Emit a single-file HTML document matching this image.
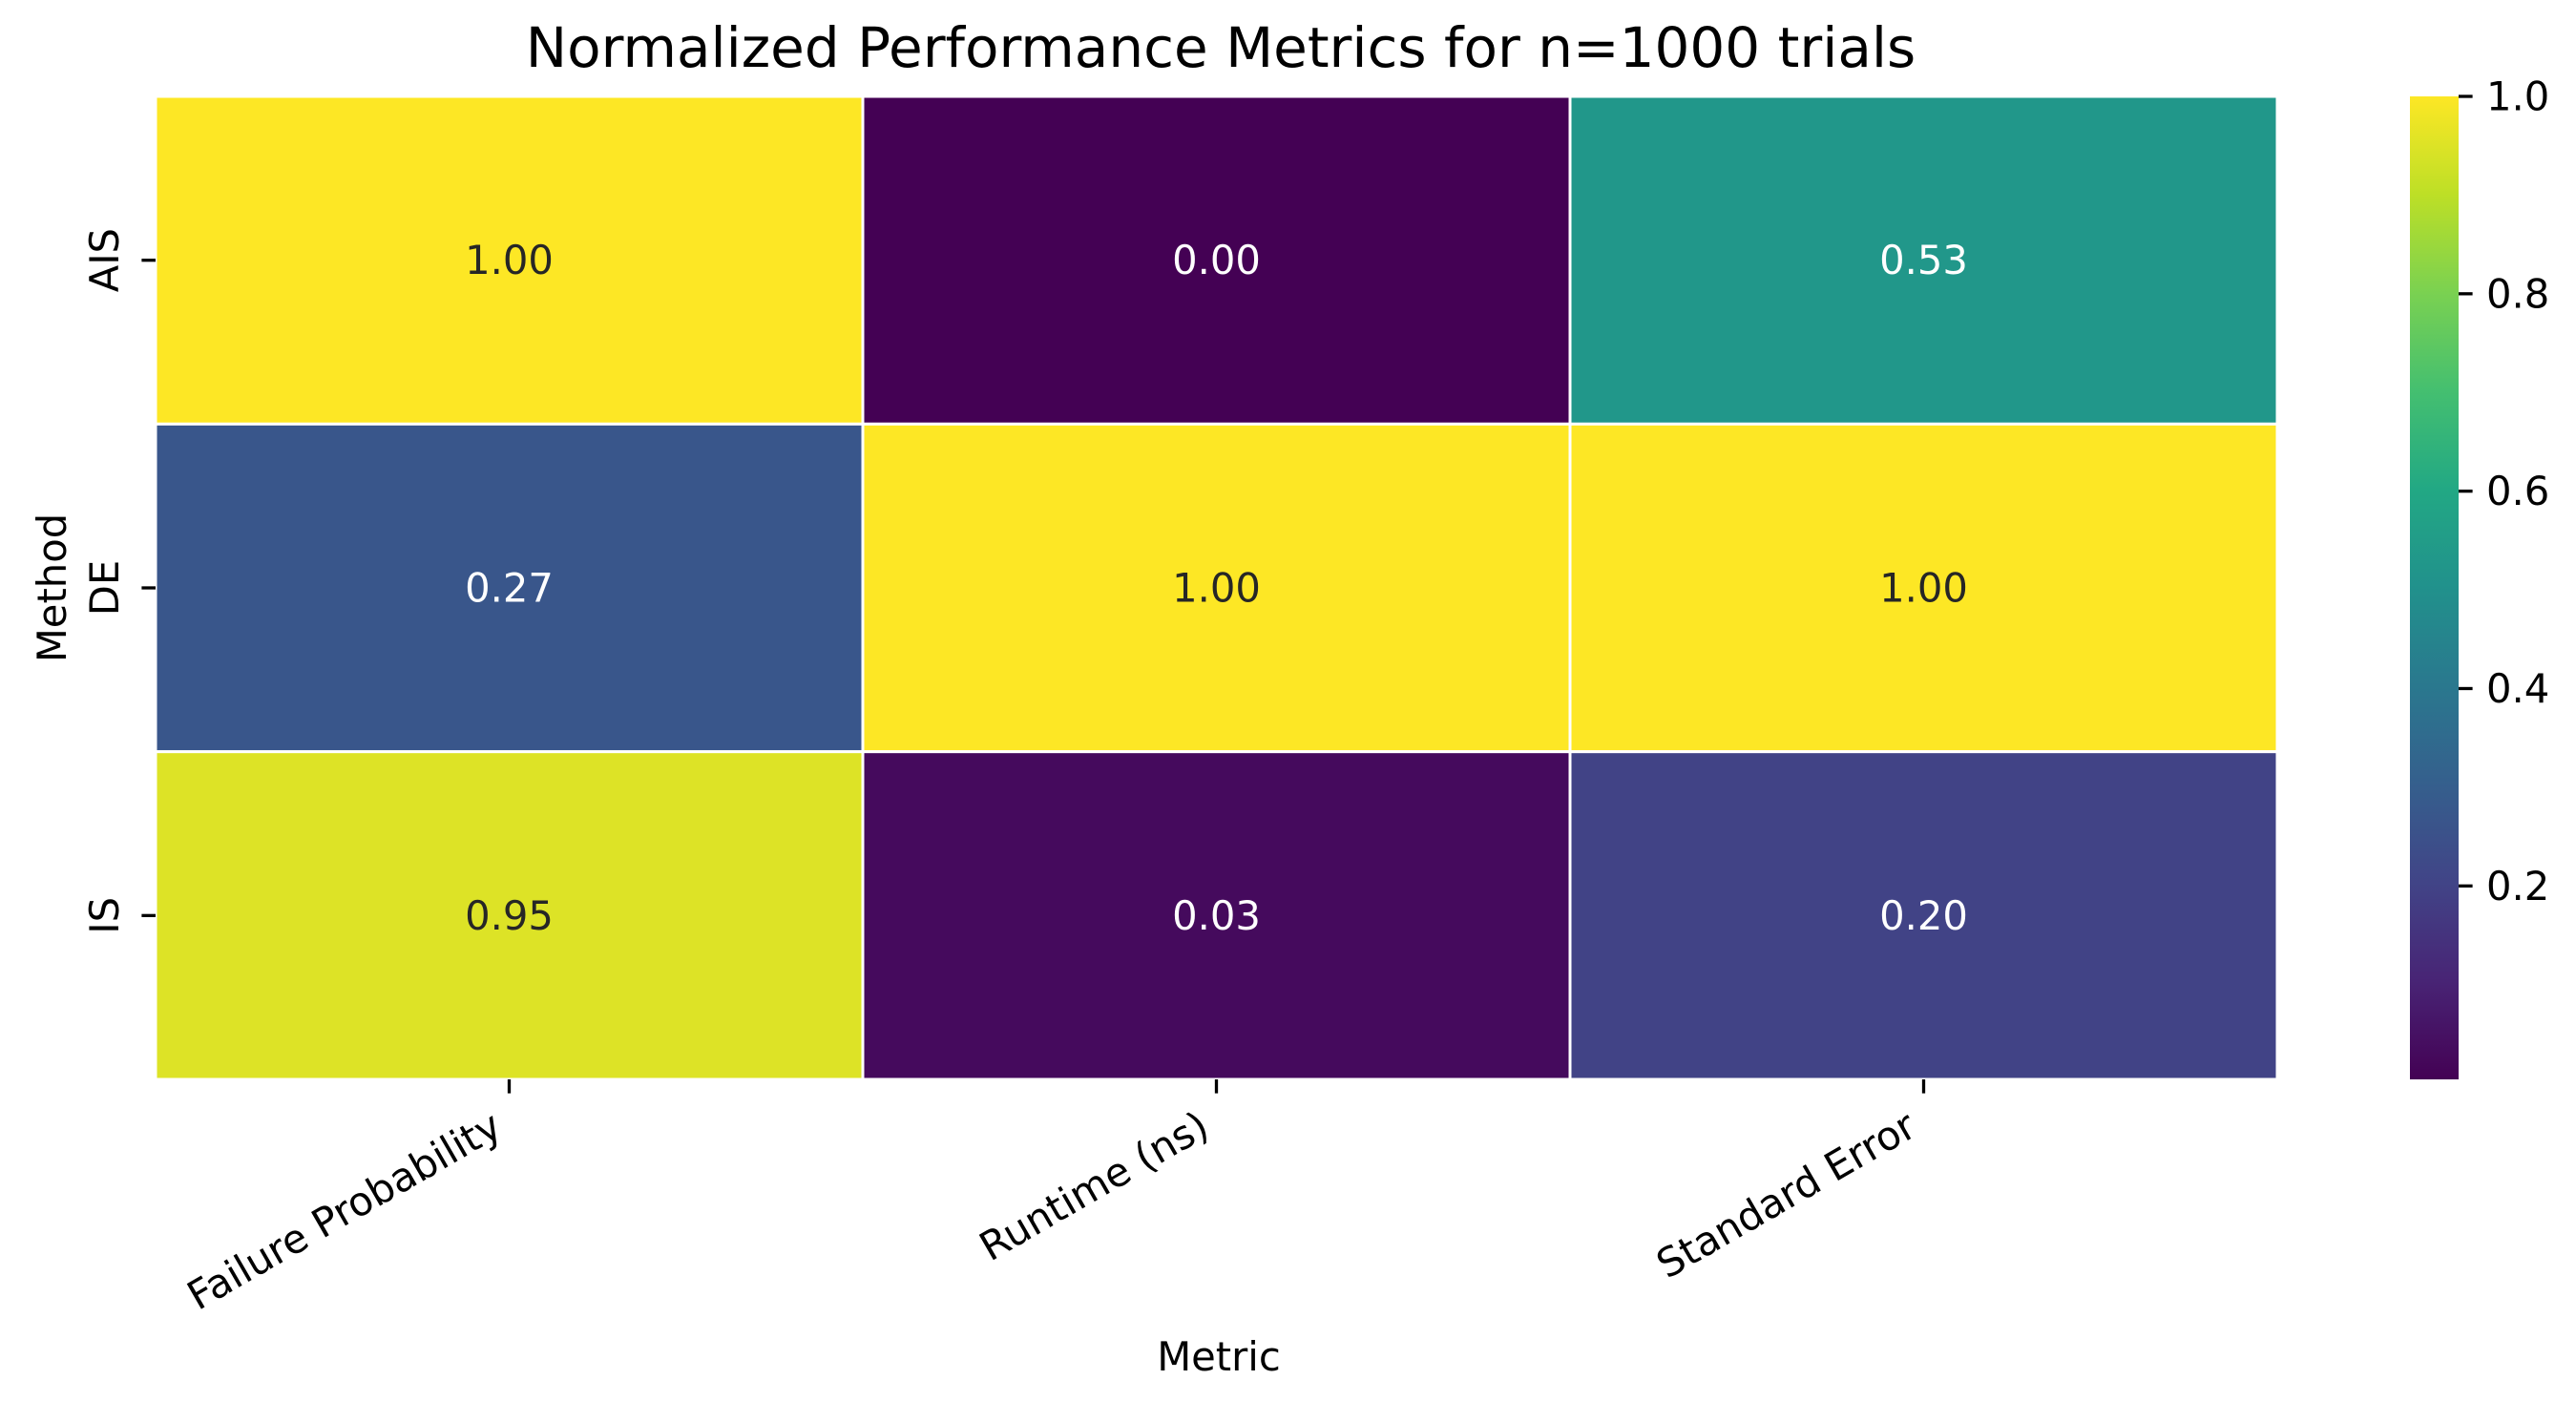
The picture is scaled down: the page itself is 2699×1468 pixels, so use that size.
<!DOCTYPE html>
<html><head><meta charset="utf-8"><style>
html,body{margin:0;padding:0;background:#fff;}
svg{display:block;font-family:"DejaVu Sans","Liberation Sans",sans-serif;}
</style></head><body>
<svg id="chart" width="2699" height="1468" viewBox="0 0 2699 1468" xmlns="http://www.w3.org/2000/svg">
<rect width="2699" height="1468" fill="#fff"/>
<text x="1279" y="70" font-size="58" text-anchor="middle" fill="#000">Normalized Performance Metrics for n=1000 trials</text>
<text transform="translate(69,616) rotate(-90)" font-size="41.7" text-anchor="middle" fill="#000">Method</text>
<text x="1277" y="1436" font-size="41.7" text-anchor="middle" fill="#000">Metric</text>
<defs><linearGradient id="vir" x1="0" y1="1" x2="0" y2="0"></linearGradient></defs>
<g id="cells"></g><g id="annots"></g><g id="axes"></g><g id="cbar"></g>
</svg>
<script>
const methods = ["AIS", "DE", "IS"];
const metrics = ["Failure Probability", "Runtime (ns)", "Standard Error"];
const rowAIS = [1.00, 0.004, 0.53];
const rowDE = [0.27, 1.00, 1.00];
const rowIS = [0.95, 0.03, 0.20];
const cbarTicks = [0.2, 0.4, 0.6, 0.8, 1.0];

const values = [rowAIS, rowDE, rowIS];
const NS = "http://www.w3.org/2000/svg";
const X0 = 163, X1 = 2386, Y0 = 101, Y1 = 1131;
const cw = (X1 - X0) / metrics.length, ch = (Y1 - Y0) / methods.length;
const xPos = i => X0 + i * cw;
const yPos = j => Y0 + j * ch;
const all = values.flat();
const vmin = Math.min(...all), vmax = Math.max(...all);
const vir = ["#440154","#482475","#414487","#355f8d","#2a788e","#21918c","#22a884","#44bf70","#7ad151","#bddf26","#fde725"];
function hex(h){return [1,3,5].map(k=>parseInt(h.substr(k,2),16));}
function lin(c){c/=255;return c<=0.03928?c/12.92:Math.pow((c+0.055)/1.055,2.4);}
function cmap(t){
  t = Math.max(0, Math.min(1, t));
  const p = t * 10, i = Math.min(9, Math.floor(p)), f = p - i;
  const a = hex(vir[i]), b = hex(vir[i+1]);
  const c = a.map((v,k)=>Math.round(v + (b[k]-v)*f));
  return {css:`rgb(${c[0]},${c[1]},${c[2]})`, lum:0.2126*lin(c[0])+0.7152*lin(c[1])+0.0722*lin(c[2])};
}
const norm = v => (v - vmin) / (vmax - vmin);
function el(tag, attrs, parent){const e=document.createElementNS(NS,tag);for(const k in attrs)e.setAttribute(k,attrs[k]);parent.appendChild(e);return e;}
const cells = document.getElementById('cells'), annots = document.getElementById('annots'), axes = document.getElementById('axes'), cbar = document.getElementById('cbar');
values.forEach((row, j) => row.forEach((v, i) => {
  const c = cmap(norm(v));
  const r = el('rect', {x:xPos(i), y:yPos(j), width:cw, height:ch, fill:c.css, stroke:'#fff', 'stroke-width':3}, cells);
  
  
  const t = el('text', {x:xPos(i)+cw/2, y:yPos(j)+ch/2, 'font-size':41.7, 'text-anchor':'middle', 'dominant-baseline':'central', fill: c.lum > 0.408 ? '#262626' : '#ffffff'}, annots);
  t.textContent = v.toFixed(2);
  
  
}));
metrics.forEach((m, i) => {
  const cx = xPos(i) + cw/2;
  const tk = el('line', {x1:cx, x2:cx, y1:Y1, y2:Y1+14.6, stroke:'#000', 'stroke-width':3.3}, axes);
  
  
  const t = el('text', {transform:`translate(${cx-5},${Y1+14.6+14.6+28}) rotate(-30)`, 'font-size':41.7, 'text-anchor':'end', fill:'#000'}, axes);
  t.textContent = m;
  
  
});
methods.forEach((m, j) => {
  const cy = yPos(j) + ch/2;
  const tk = el('line', {x1:X0-14.6, x2:X0, y1:cy, y2:cy, stroke:'#000', 'stroke-width':3.3}, axes);
  
  
  const t = el('text', {transform:`translate(124,${cy}) rotate(-90)`, 'font-size':41.7, 'text-anchor':'middle', fill:'#000'}, axes);
  t.textContent = m;
  
  
});
const grad = document.getElementById('vir');
vir.forEach((c,k)=>el('stop',{offset:(k*10)+'%','stop-color':c},grad));
const CX0 = 2525, CX1 = 2576;
const cb = el('rect', {x:CX0, y:Y0, width:CX1-CX0, height:Y1-Y0, fill:'url(#vir)'}, cbar);


const cy = v => Y1 - (v - vmin) / (vmax - vmin) * (Y1 - Y0);
cbarTicks.forEach(v => {
  const y = cy(v);
  const tk = el('line', {x1:CX1, x2:CX1+14.6, y1:y, y2:y, stroke:'#000', 'stroke-width':3.3}, cbar);
  
  
  const t = el('text', {x:CX1+29, y:y, 'font-size':41.7, 'dominant-baseline':'central', fill:'#000'}, cbar);
  t.textContent = v.toFixed(1);
  
  
});
</script>
</body></html>
